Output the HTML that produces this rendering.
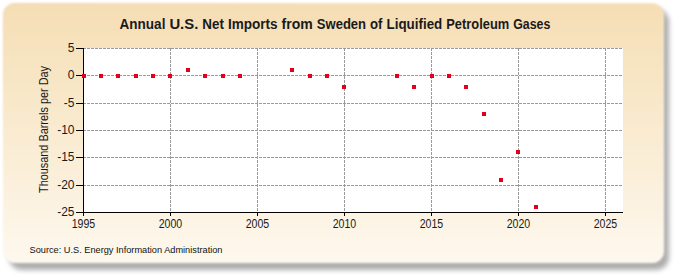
<!DOCTYPE html>
<html><head><meta charset="utf-8">
<style>
html,body{margin:0;padding:0;background:#fff;}
body{width:675px;height:275px;overflow:hidden;position:relative;}
svg{position:absolute;left:0;top:0;}
text{font-family:"Liberation Sans",sans-serif;fill:#1a1a1a;}
</style></head><body>
<svg width="675" height="275" viewBox="0 0 675 275">
<defs>
<linearGradient id="bg" x1="0" y1="0" x2="0" y2="1">
<stop offset="0" stop-color="#f5deb4"/>
<stop offset="1" stop-color="#fef8ee"/>
</linearGradient>
<filter id="sh" x="-5%" y="-5%" width="110%" height="115%">
<feGaussianBlur stdDeviation="2.5"/>
</filter>
<linearGradient id="rim" x1="0" y1="0" x2="1" y2="1">
<stop offset="0" stop-color="#e8cc98" stop-opacity="0.5"/>
<stop offset="0.5" stop-color="#ffffff" stop-opacity="0.2"/>
<stop offset="1" stop-color="#ffffff" stop-opacity="0.7"/>
</linearGradient>
<filter id="soft" x="-2%" y="-5%" width="104%" height="110%"><feGaussianBlur stdDeviation="0.8"/></filter>
</defs>
<rect x="9" y="9" width="660" height="261" rx="13" ry="13" fill="#adadad" filter="url(#sh)"/>
<g filter="url(#soft)"><rect x="3" y="3" width="661" height="260" rx="12" ry="12" fill="url(#bg)"/>
<rect x="3.5" y="3.5" width="660" height="259" rx="11.5" ry="11.5" fill="none" stroke="url(#rim)" stroke-width="1"/></g>
<rect x="84" y="48" width="539" height="164" fill="#fff"/>
<g stroke="#9a9a9a" stroke-width="1" stroke-dasharray="3 1" shape-rendering="crispEdges">
<line x1="83" y1="48.5" x2="623" y2="48.5"/><line x1="83" y1="75.5" x2="623" y2="75.5"/><line x1="83" y1="103.5" x2="623" y2="103.5"/><line x1="83" y1="130.5" x2="623" y2="130.5"/><line x1="83" y1="157.5" x2="623" y2="157.5"/><line x1="83" y1="185.5" x2="623" y2="185.5"/>
<line x1="170.5" y1="48" x2="170.5" y2="212"/><line x1="257.5" y1="48" x2="257.5" y2="212"/><line x1="344.5" y1="48" x2="344.5" y2="212"/><line x1="431.5" y1="48" x2="431.5" y2="212"/><line x1="518.5" y1="48" x2="518.5" y2="212"/><line x1="605.5" y1="48" x2="605.5" y2="212"/>
</g>
<g stroke="#000" stroke-width="1" shape-rendering="crispEdges">
<line x1="83.5" y1="48" x2="83.5" y2="213"/>
<line x1="83" y1="212.5" x2="623" y2="212.5"/>
<line x1="76" y1="48.5" x2="83" y2="48.5"/><line x1="76" y1="75.5" x2="83" y2="75.5"/><line x1="76" y1="103.5" x2="83" y2="103.5"/><line x1="76" y1="130.5" x2="83" y2="130.5"/><line x1="76" y1="157.5" x2="83" y2="157.5"/><line x1="76" y1="185.5" x2="83" y2="185.5"/><line x1="76" y1="212.5" x2="83" y2="212.5"/>
<line x1="83.5" y1="212" x2="83.5" y2="216"/><line x1="170.5" y1="212" x2="170.5" y2="216"/><line x1="257.5" y1="212" x2="257.5" y2="216"/><line x1="344.5" y1="212" x2="344.5" y2="216"/><line x1="431.5" y1="212" x2="431.5" y2="216"/><line x1="518.5" y1="212" x2="518.5" y2="216"/><line x1="605.5" y1="212" x2="605.5" y2="216"/>
</g>
<g fill="#e0001e" shape-rendering="crispEdges">
<rect x="82" y="74" width="4" height="4"/><rect x="99" y="74" width="4" height="4"/><rect x="116" y="74" width="4" height="4"/><rect x="134" y="74" width="4" height="4"/><rect x="151" y="74" width="4" height="4"/><rect x="168" y="74" width="4" height="4"/><rect x="186" y="68" width="4" height="4"/><rect x="203" y="74" width="4" height="4"/><rect x="221" y="74" width="4" height="4"/><rect x="238" y="74" width="4" height="4"/><rect x="290" y="68" width="4" height="4"/><rect x="308" y="74" width="4" height="4"/><rect x="325" y="74" width="4" height="4"/><rect x="342" y="85" width="4" height="4"/><rect x="395" y="74" width="4" height="4"/><rect x="412" y="85" width="4" height="4"/><rect x="430" y="74" width="4" height="4"/><rect x="447" y="74" width="4" height="4"/><rect x="464" y="85" width="4" height="4"/><rect x="482" y="112" width="4" height="4"/><rect x="499" y="178" width="4" height="4"/><rect x="516" y="150" width="4" height="4"/><rect x="534" y="205" width="4" height="4"/>
</g>
<g font-weight="bold" font-size="14.5" style="fill:#000"><text x="119.5" y="29" textLength="45.9" lengthAdjust="spacingAndGlyphs">Annual</text><text x="169.4" y="29" textLength="28.9" lengthAdjust="spacingAndGlyphs">U.S.</text><text x="202.3" y="29" textLength="21.6" lengthAdjust="spacingAndGlyphs">Net</text><text x="227.9" y="29" textLength="49.7" lengthAdjust="spacingAndGlyphs">Imports</text><text x="281.6" y="29" textLength="31.2" lengthAdjust="spacingAndGlyphs">from</text><text x="316.8" y="29" textLength="49.3" lengthAdjust="spacingAndGlyphs">Sweden</text><text x="370.1" y="29" textLength="12.4" lengthAdjust="spacingAndGlyphs">of</text><text x="386.5" y="29" textLength="55.8" lengthAdjust="spacingAndGlyphs">Liquified</text><text x="446.3" y="29" textLength="62.9" lengthAdjust="spacingAndGlyphs">Petroleum</text><text x="513.2" y="29" textLength="37.1" lengthAdjust="spacingAndGlyphs">Gases</text></g>
<g font-size="12">
<text x="74.5" y="52" text-anchor="end">5</text><text x="74.5" y="79" text-anchor="end">0</text><text x="74.5" y="107" text-anchor="end">-5</text><text x="74.5" y="134" text-anchor="end">-10</text><text x="74.5" y="161" text-anchor="end">-15</text><text x="74.5" y="189" text-anchor="end">-20</text><text x="74.5" y="216" text-anchor="end">-25</text>
<text x="71.75" y="228" textLength="23.5" lengthAdjust="spacingAndGlyphs">1995</text><text x="158.75" y="228" textLength="23.5" lengthAdjust="spacingAndGlyphs">2000</text><text x="245.75" y="228" textLength="23.5" lengthAdjust="spacingAndGlyphs">2005</text><text x="332.75" y="228" textLength="23.5" lengthAdjust="spacingAndGlyphs">2010</text><text x="419.75" y="228" textLength="23.5" lengthAdjust="spacingAndGlyphs">2015</text><text x="506.75" y="228" textLength="23.5" lengthAdjust="spacingAndGlyphs">2020</text><text x="593.75" y="228" textLength="23.5" lengthAdjust="spacingAndGlyphs">2025</text>
</g>
<text transform="translate(47.8,193) rotate(-90)" font-size="12.6" textLength="127" lengthAdjust="spacingAndGlyphs">Thousand Barrels per Day</text>
<text x="29.5" y="252.5" font-size="9.5" textLength="193" lengthAdjust="spacingAndGlyphs" style="fill:#111">Source: U.S. Energy Information Administration</text>
</svg>
</body></html>
